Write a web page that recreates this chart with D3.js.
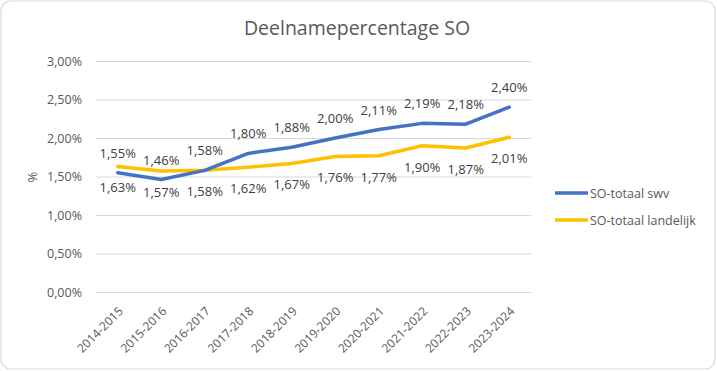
<!DOCTYPE html>
<html><head><meta charset="utf-8">
<script src="https://cdn.jsdelivr.net/npm/d3@7"></script>
<style>html,body{margin:0;padding:0;background:#fff;overflow:hidden}</style>
</head><body>
<svg id="c" width="717" height="371"></svg>
<script>
const categories = ["2014-2015","2015-2016","2016-2017","2017-2018","2018-2019","2019-2020","2020-2021","2021-2022","2022-2023","2023-2024"];
const swv = [1.55,1.46,1.58,1.80,1.88,2.00,2.11,2.19,2.18,2.40];
const landelijk = [1.63,1.57,1.58,1.62,1.67,1.76,1.77,1.90,1.87,2.01];
const seriesNames = ["SO-totaal swv","SO-totaal landelijk"];
const yTicks = [0,0.5,1,1.5,2,2.5,3];
const title = "Deelnamepercentage SO";
const yTitle = "%";

const font = "'Open Sans', 'Liberation Sans', sans-serif";
const fmt = v => v.toFixed(2).replace(".", ",") + "%";
const svg = d3.select("#c");
svg.append("rect").attr("x",1).attr("y",1).attr("width",714).attr("height",368)
  .attr("rx",10).attr("fill","#fff").attr("stroke","#d9d9d9").attr("stroke-width",1.2);

svg.append("text").attr("x",357).attr("y",35).attr("text-anchor","middle")
  .attr("font-family",font).attr("font-size",19.5).attr("fill","#595959").text(title);

const x = d3.scaleBand().domain(categories).range([96,531]);
const y = d3.scaleLinear().domain([0,3]).range([292,61]);

const gy = svg.append("g").attr("transform","translate(96,0)")
  .call(d3.axisLeft(y).tickValues(yTicks).tickSize(-435).tickPadding(14).tickFormat(fmt));
gy.select(".domain").remove();
gy.selectAll(".tick line").attr("stroke","#d9d9d9").attr("stroke-width",1);
gy.selectAll(".tick text").attr("font-family",font).attr("font-size",12.5).attr("fill","#595959");

const gx = svg.append("g").attr("transform","translate(0,292)")
  .call(d3.axisBottom(x).tickSize(0).tickPadding(0));
gx.select(".domain").attr("stroke","#d9d9d9");
gx.selectAll(".tick text").attr("font-family",font).attr("font-size",12).attr("fill","#595959")
  .attr("text-anchor","end").attr("dy",0)
  .attr("transform","translate(6,20) rotate(-45)");

svg.append("text").attr("transform","translate(37,177) rotate(-90)").attr("text-anchor","middle")
  .attr("font-family",font).attr("font-size",13).attr("fill","#595959").text(yTitle);

const cx = d => x(d) + x.bandwidth()/2;
const line = d3.line().x((d,i)=>cx(categories[i])).y(d=>y(d));
const colors = ["#4472C4","#FFC000"];
const data = [landelijk, swv];
const cols = [colors[1], colors[0]];
data.forEach((s,k)=>{
  svg.append("path").datum(s).attr("d",line).attr("fill","none")
    .attr("stroke",cols[k]).attr("stroke-width",3.5).attr("stroke-linejoin","round").attr("stroke-linecap","round");
});

const lbl = svg.append("g").attr("font-family",font).attr("font-size",13).attr("fill","#404040").attr("text-anchor","middle");
swv.forEach((v,i)=>{
  lbl.append("text").attr("x",cx(categories[i])).attr("y",y(v)-15).text(fmt(v));
});
landelijk.forEach((v,i)=>{
  lbl.append("text").attr("x",cx(categories[i])).attr("y",y(v)+26).text(fmt(v));
});

const leg = svg.append("g");
seriesNames.forEach((n,k)=>{
  const yy = 193 + k*27;
  leg.append("line").attr("x1",555).attr("x2",588).attr("y1",yy).attr("y2",yy)
    .attr("stroke",colors[k]).attr("stroke-width",3.5);
  leg.append("text").attr("x",590).attr("y",yy+4.5).attr("font-family",font).attr("font-size",12.5)
    .attr("fill","#595959").text(n);
});
</script>
</body></html>
